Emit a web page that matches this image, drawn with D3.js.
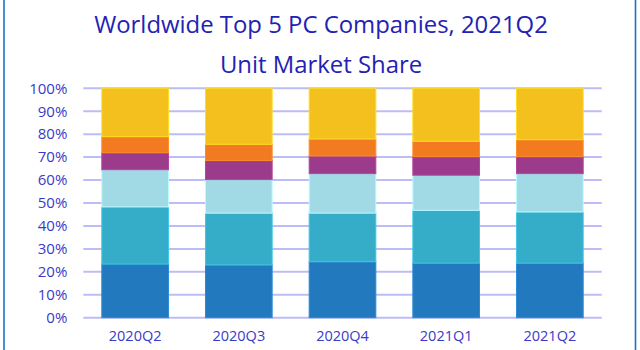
<!DOCTYPE html>
<html>
<head>
<meta charset="utf-8">
<script src="https://cdn.jsdelivr.net/npm/d3@7"></script>
<style>
  html, body { margin: 0; padding: 0; background: #fff; }
  svg { display: block; }
</style>
</head>
<body>
<svg id="chart" width="640" height="350"></svg>
<script>
const quarters = ["2020Q2", "2020Q3", "2020Q4", "2021Q1", "2021Q2"];
const companies = ["Lenovo", "HP", "Dell", "Apple", "Acer", "Others"];
const lenovo = [23.4, 23.0, 24.4, 23.8, 23.8];
const hp     = [24.9, 22.6, 21.2, 23.0, 22.3];
const dell   = [16.2, 14.6, 17.2, 15.3, 16.7];
const apple  = [7.4, 8.3, 7.7, 8.1, 7.4];
const acer   = [7.0, 7.1, 7.4, 6.7, 7.4];
const others = [21.1, 24.4, 22.1, 23.1, 22.4];
const yTicks = [0, 10, 20, 30, 40, 50, 60, 70, 80, 90, 100];
const colors = ["#2379bd", "#35adc8", "#a1dae5", "#9c3b8c", "#f27a21", "#f3c01e"];

const seriesValues = [lenovo, hp, dell, apple, acer, others];
const rows = quarters.map((q, i) => {
  const r = { quarter: q };
  companies.forEach((c, j) => r[c] = seriesValues[j][i]);
  return r;
});

const svg = d3.select("#chart");
const W = 640, H = 350;
const m = { left: 83.3, right: 38.3, top: 88.3, bottom: 32.3 };

const x = d3.scaleBand().domain(quarters)
  .range([m.left, W - m.right]).paddingInner(0.357).paddingOuter(0.357 / 2);
const y = d3.scaleLinear().domain([0, 100]).range([H - m.bottom, m.top]);

// frame lines
svg.append("line").attr("x1", 4).attr("x2", 4).attr("y1", 0).attr("y2", H)
  .attr("stroke", "#1a72c9").attr("stroke-width", 1.6);
svg.append("line").attr("x1", 635.5).attr("x2", 635.5).attr("y1", 0).attr("y2", H)
  .attr("stroke", "#1a72c9").attr("stroke-width", 1.6);

// title
const title = svg.append("text").attr("x", 321).attr("text-anchor", "middle")
  .attr("font-family", "Open Sans, sans-serif").attr("font-size", 23.9).attr("fill", "#2222b4");
title.append("tspan").attr("x", 321).attr("y", 32.5).text("Worldwide Top 5 PC Companies, 2021Q2");
title.append("tspan").attr("x", 321).attr("y", 72.5).text("Unit Market Share");

// gridlines
svg.append("g").selectAll("line").data(yTicks).join("line")
  .attr("x1", m.left).attr("x2", W - m.right)
  .attr("y1", d => y(d)).attr("y2", d => y(d))
  .attr("stroke", "#bcbcf6").attr("stroke-width", 2);

// y axis
const yAxis = svg.append("g").attr("transform", `translate(${m.left - 10},0)`)
  .call(d3.axisLeft(y).tickValues(yTicks).tickFormat(d => d + "%").tickSize(0).tickPadding(6));
yAxis.select(".domain").remove();
yAxis.selectAll("text").attr("font-family", "Open Sans, sans-serif").attr("font-size", 15)
  .attr("fill", "#3a3ac8");

// bars
const stack = d3.stack().keys(companies)(rows);
svg.append("g").selectAll("g").data(stack).join("g")
  .attr("fill", (d, i) => colors[i])
  .attr("stroke", (d, i) => d3.color(colors[i]).brighter(0.4))
  .attr("stroke-width", 1)
  .selectAll("rect").data(d => d).join("rect")
  .attr("x", d => x(d.data.quarter))
  .attr("width", x.bandwidth())
  .attr("y", d => y(d[1]))
  .attr("height", d => y(d[0]) - y(d[1]));

// x axis
const xAxis = svg.append("g").attr("transform", `translate(0,${H - m.bottom})`)
  .call(d3.axisBottom(x).tickSize(0).tickPadding(13));
xAxis.select(".domain").remove();
xAxis.selectAll("text").attr("font-family", "Open Sans, sans-serif").attr("font-size", 14.5)
  .attr("fill", "#3a3ac8");
</script>
</body>
</html>
